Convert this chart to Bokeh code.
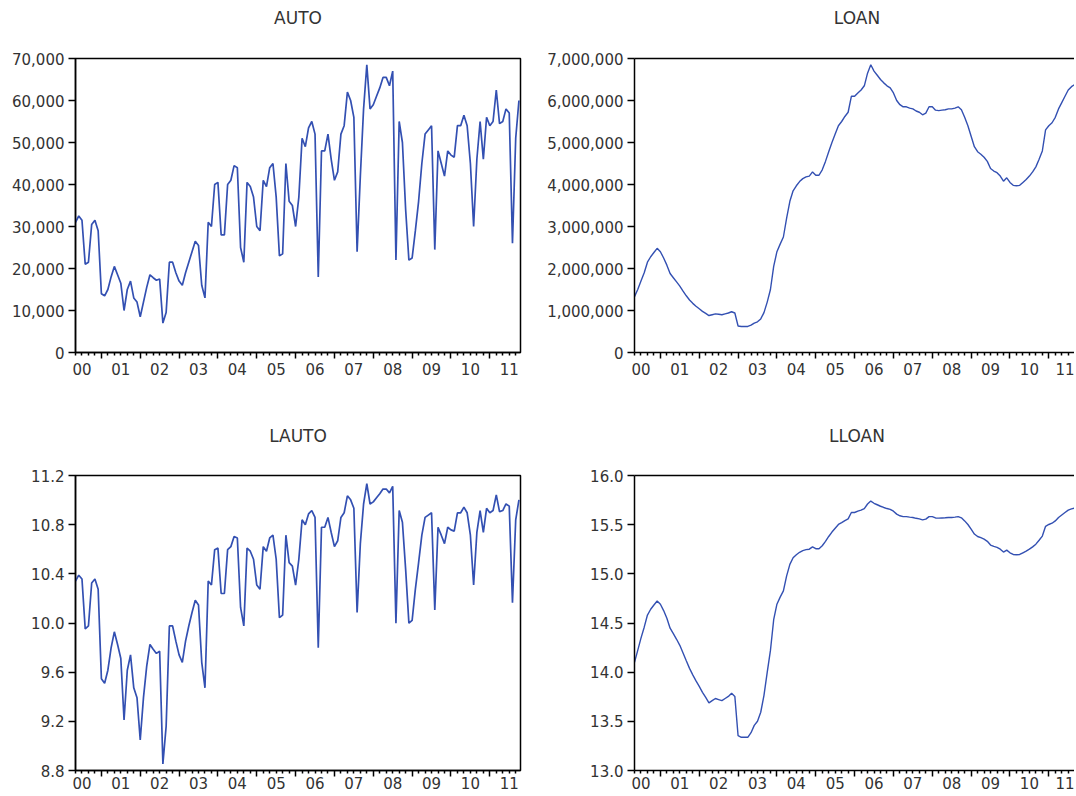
import numpy as np
from bokeh.plotting import figure
from bokeh.layouts import gridplot
from bokeh.models import (Range1d, FixedTicker, LinearAxis, NumeralTickFormatter,
                          CustomJSTickFormatter)
from bokeh.embed import file_html
from bokeh.resources import INLINE

# ---------------- data (monthly, first observation May 2000) ----------------
start = 2000 + 4 / 12
year_labels = ["00", "01", "02", "03", "04", "05", "06", "07", "08", "09", "10", "11"]

auto = [31000, 32500, 31500, 21000, 21500, 30500, 31500, 29000, 14000, 13500,
        15000, 18000, 20500, 18500, 16500, 10000, 15000, 17000, 13000, 12000,
        8500, 12000, 15500, 18500, 17800, 17200, 17500, 7000, 9500, 21500,
        21500, 19000, 17000, 16000, 19000, 21500, 24000, 26500, 25500, 16000,
        13000, 31000, 30000, 40000, 40500, 28000, 28000, 40000, 41000, 44500,
        44000, 25000, 21500, 40500, 39500, 37000, 30000, 29000, 41000, 39500,
        44000, 45000, 37000, 23000, 23500, 45000, 36000, 35000, 30000, 37000,
        51000, 49000, 53500, 55000, 52000, 18000, 48000, 48000, 52000, 46000,
        41000, 43000, 52000, 54000, 62000, 60000, 56000, 24000, 42000, 58000,
        68500, 58000, 59000, 61000, 63000, 65500, 65500, 63500, 67000, 22000,
        55000, 50000, 34000, 22000, 22500, 29000, 36000, 45000, 52000, 53000,
        54000, 24500, 48000, 45000, 42000, 48000, 47000, 46500, 54000, 54000,
        56500, 54000, 45000, 30000, 46000, 55000, 46000, 56000, 54000, 55000,
        62500, 54500, 55000, 58000, 57000, 26000, 51000, 60000]

loan_thousands = [1330, 1500, 1700, 1900, 2150, 2280, 2380, 2480, 2400, 2250,
                  2080, 1880, 1780, 1680, 1580, 1460, 1350, 1250, 1170, 1100,
                  1040, 980, 930, 880, 900, 920, 910, 900, 920, 940,
                  970, 940, 630, 620, 620, 620, 650, 700, 730, 800,
                  950, 1200, 1500, 2050, 2400, 2580, 2750, 3200, 3600, 3850,
                  3970, 4070, 4140, 4180, 4200, 4300, 4220, 4220, 4350, 4550,
                  4780, 5000, 5200, 5400, 5500, 5620, 5720, 6100, 6100, 6180,
                  6250, 6350, 6650, 6850, 6700, 6600, 6500, 6420, 6350, 6300,
                  6180, 6000, 5900, 5850, 5850, 5820, 5800, 5750, 5720, 5660,
                  5700, 5850, 5850, 5770, 5760, 5770, 5780, 5800, 5800, 5820,
                  5850, 5780, 5600, 5400, 5150, 4900, 4780, 4720, 4650, 4550,
                  4380, 4320, 4280, 4200, 4080, 4160, 4050, 3980, 3970, 3980,
                  4050, 4120, 4200, 4300, 4420, 4600, 4800, 5300, 5400, 5470,
                  5600, 5800, 5950, 6100, 6250, 6330, 6380, 6450]

titles = ["AUTO", "LOAN", "LAUTO", "LLOAN"]
auto_ticks = [0, 10000, 20000, 30000, 40000, 50000, 60000, 70000]
loan_ticks = [0, 1000000, 2000000, 3000000, 4000000, 5000000, 6000000, 7000000]
lauto_ticks = [8.8, 9.2, 9.6, 10.0, 10.4, 10.8, 11.2]
lloan_ticks = [13.0, 13.5, 14.0, 14.5, 15.0, 15.5, 16.0]

auto = np.array(auto, dtype=float)
loan = np.array(loan_thousands, dtype=float) * 1000.0
lauto = np.log(auto)          # LAUTO = log(AUTO)
lloan = np.log(loan)          # LLOAN = log(LOAN)
t_auto = start + np.arange(len(auto)) / 12.0
t_loan = start + np.arange(len(loan)) / 12.0

# ---------------- styling ----------------
LINE = "#3350b2"
TXT = "#333333"
FONT = "DejaVu Sans"
X_END = 2011.79
PX_PER_YEAR = 445.0 / (X_END - start)

empty_fmt = CustomJSTickFormatter(code="return '';")


def panel(title, t, y, yticks, fmt, left, top, lw):
    if left:
        bl, fw, br = 75, 445, 20
    else:
        bl, fw, br = 94, 440, 0
    if top:
        bt, fh, bb = 58, 294, 30
    else:
        bt, fh, bb = 93, 295, 24
    xend = start + fw / PX_PER_YEAR
    p = figure(frame_width=fw, frame_height=fh,
               min_border_left=bl, min_border_right=br,
               min_border_top=bt, min_border_bottom=bb,
               x_range=Range1d(start, xend),
               y_range=Range1d(yticks[0], yticks[-1]),
               x_axis_type=None, y_axis_type=None,
               output_backend="svg", toolbar_location=None)
    p.background_fill_color = "white"
    p.border_fill_color = "white"

    if left:
        p.outline_line_color = "black"
        p.outline_line_width = 1.5
        p.outline_line_alpha = 1.0
    else:
        p.outline_line_color = None

    # axis above: title text centred over the (full) chart span, plus the top
    # frame line for the right-hand panels that are cut at the page edge
    title_fmt = CustomJSTickFormatter(args=dict(txt=title), code="return txt;")
    top_ax = LinearAxis(ticker=FixedTicker(ticks=[(start + X_END) / 2.0], minor_ticks=[]),
                        formatter=title_fmt,
                        axis_line_color=None if left else "black",
                        axis_line_width=1.5,
                        major_tick_line_color=None, minor_tick_line_color=None,
                        major_tick_in=0, major_tick_out=0,
                        minor_tick_in=0, minor_tick_out=0,
                        major_label_text_font=FONT,
                        major_label_text_font_size="17px",
                        major_label_text_color=TXT,
                        major_label_standoff=31 if top else 30)
    p.add_layout(top_ax, "above")

    yaxis = LinearAxis(ticker=FixedTicker(ticks=yticks, minor_ticks=[]),
                       formatter=NumeralTickFormatter(format=fmt),
                       axis_line_color="black", axis_line_width=1.5,
                       major_tick_line_color="black", major_tick_line_width=1.5,
                       major_tick_in=0, major_tick_out=7,
                       minor_tick_line_color=None,
                       major_label_standoff=4,
                       major_label_text_font=FONT,
                       major_label_text_font_size="15px",
                       major_label_text_color=TXT)
    p.add_layout(yaxis, "left")

    year_edges = list(range(2001, 2012))
    minor = [yr + k / 6.0 for yr in range(2000, 2012) for k in range(1, 6)]
    xaxis = LinearAxis(ticker=FixedTicker(ticks=year_edges, minor_ticks=minor),
                       formatter=empty_fmt,
                       axis_line_color="black", axis_line_width=1.5,
                       major_tick_line_color="black", major_tick_line_width=1.5,
                       major_tick_in=0, major_tick_out=6,
                       minor_tick_line_color="black", minor_tick_line_width=1.5,
                       minor_tick_in=0, minor_tick_out=3,
                       major_label_text_font_size="0px",
                       major_label_standoff=0)
    p.add_layout(xaxis, "below")

    mids = [yr + 0.5 for yr in range(2000, 2012)]
    lab_fmt = CustomJSTickFormatter(args=dict(labels=year_labels),
                                    code="return labels[Math.round(tick - 0.5) - 2000];")
    laxis = LinearAxis(ticker=FixedTicker(ticks=mids, minor_ticks=[]),
                       formatter=lab_fmt,
                       axis_line_color=None,
                       major_tick_line_color=None, major_tick_in=0, major_tick_out=0,
                       minor_tick_line_color=None, minor_tick_in=0, minor_tick_out=0,
                       major_label_standoff=4 if top else 0,
                       major_label_text_font=FONT,
                       major_label_text_font_size="15px",
                       major_label_text_color=TXT)
    p.add_layout(laxis, "below")

    p.line(t, y, line_color=LINE, line_width=lw)
    return p


p1 = panel(titles[0], t_auto, auto, auto_ticks, "0,0", True, True, 1.7)
p2 = panel(titles[1], t_loan, loan, loan_ticks, "0,0", False, True, 1.4)
p3 = panel(titles[2], t_auto, lauto, lauto_ticks, "0.0", True, False, 1.7)
p4 = panel(titles[3], t_loan, lloan, lloan_ticks, "0.0", False, False, 1.4)

grid = gridplot([[p1, p2], [p3, p4]], toolbar_location=None)

with open("out.html", "w") as f:
    f.write(file_html(grid, INLINE))
